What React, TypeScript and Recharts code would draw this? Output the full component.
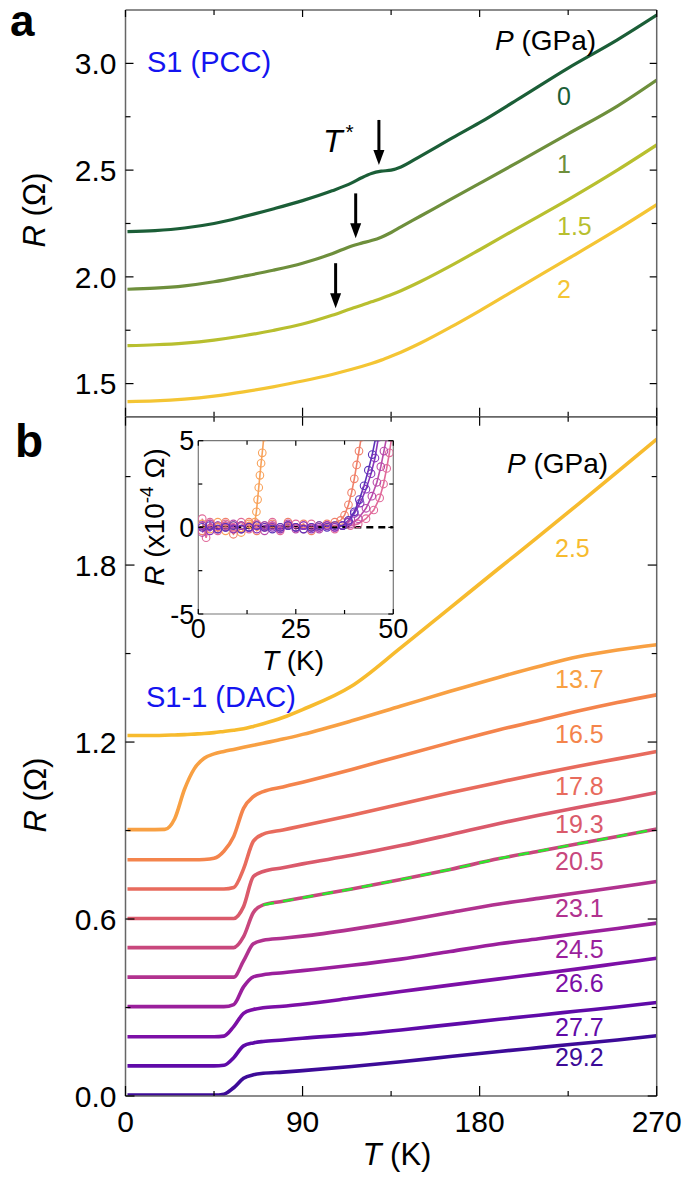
import React from "react";
import { LineChart, Line, XAxis, YAxis, ReferenceLine } from "recharts";

const FONT = "'Liberation Sans', Arial, Helvetica, sans-serif";

// ---- panel a: S1 in the piston-cylinder cell, R (ohm) vs T (K)
const tA = [1, 15, 30, 45, 60, 75, 90, 105, 115, 120, 125, 130, 135, 140, 150, 165, 180, 200, 225, 250, 270];
const rA0 = [2.212, 2.217, 2.229, 2.25, 2.282, 2.318, 2.357, 2.403, 2.44, 2.464, 2.484, 2.495, 2.5, 2.515, 2.566, 2.645, 2.722, 2.835, 2.978, 3.11, 3.226];
const rA1 = [1.942, 1.947, 1.958, 1.977, 2.003, 2.031, 2.064, 2.108, 2.145, 2.158, 2.17, 2.186, 2.208, 2.234, 2.285, 2.362, 2.438, 2.54, 2.67, 2.8, 2.922];
const rA15 = [1.678, 1.682, 1.69, 1.704, 1.724, 1.749, 1.779, 1.82, 1.852, 1.867, 1.883, 1.899, 1.916, 1.935, 1.978, 2.05, 2.127, 2.232, 2.362, 2.5, 2.618];
const rA2 = [1.416, 1.419, 1.427, 1.441, 1.461, 1.485, 1.512, 1.543, 1.567, 1.58, 1.594, 1.61, 1.628, 1.647, 1.69, 1.763, 1.841, 1.95, 2.085, 2.222, 2.338];
// T* arrows: [T, R at tail, R at tip]
const tStarArrows = [
  [128.8, 2.735, 2.524],
  [117, 2.391, 2.181],
  [106.8, 2.064, 1.853],
];

// ---- panel b: S1-1 in the diamond anvil cell
const tB = [1, 10, 20, 25, 30, 35, 40, 45, 50, 55, 60, 65, 70, 80, 90, 115, 140, 165, 190, 210, 230, 250, 270];
const rB25 = [1.222, 1.222, 1.223, 1.224, 1.225, 1.227, 1.229, 1.232, 1.236, 1.24, 1.245, 1.253, 1.262, 1.283, 1.31, 1.39, 1.52, 1.655, 1.79, 1.897, 2.006, 2.116, 2.227];
const rB137 = [0.903, 0.903, 0.904, 0.94, 1.04, 1.11, 1.145, 1.16, 1.168, 1.175, 1.182, 1.189, 1.196, 1.21, 1.226, 1.272, 1.322, 1.372, 1.42, 1.456, 1.489, 1.512, 1.53];
const rB165 = [0.801, 0.801, 0.801, 0.801, 0.801, 0.801, 0.802, 0.806, 0.83, 0.88, 0.975, 1.015, 1.032, 1.048, 1.064, 1.107, 1.153, 1.198, 1.242, 1.273, 1.305, 1.334, 1.36];
const rB178 = [0.702, 0.702, 0.702, 0.702, 0.702, 0.702, 0.702, 0.702, 0.702, 0.707, 0.77, 0.864, 0.888, 0.902, 0.916, 0.952, 0.99, 1.028, 1.064, 1.092, 1.118, 1.143, 1.168];
const rB193 = [0.602, 0.602, 0.602, 0.602, 0.602, 0.602, 0.602, 0.602, 0.602, 0.602, 0.642, 0.744, 0.761, 0.774, 0.787, 0.816, 0.849, 0.886, 0.924, 0.952, 0.978, 1.003, 1.029];
const rB205 = [0.503, 0.503, 0.503, 0.503, 0.503, 0.503, 0.503, 0.503, 0.503, 0.503, 0.54, 0.622, 0.648, 0.66, 0.672, 0.702, 0.734, 0.768, 0.805, 0.83, 0.855, 0.88, 0.905];
const rB231 = [0.403, 0.403, 0.403, 0.403, 0.403, 0.403, 0.403, 0.403, 0.403, 0.403, 0.458, 0.516, 0.528, 0.535, 0.542, 0.565, 0.592, 0.622, 0.651, 0.67, 0.689, 0.708, 0.727];
const rB245 = [0.303, 0.303, 0.303, 0.303, 0.303, 0.303, 0.303, 0.303, 0.303, 0.31, 0.37, 0.404, 0.411, 0.418, 0.425, 0.443, 0.464, 0.49, 0.516, 0.533, 0.551, 0.568, 0.586];
const rB266 = [0.201, 0.201, 0.201, 0.201, 0.201, 0.201, 0.201, 0.201, 0.203, 0.235, 0.28, 0.293, 0.299, 0.304, 0.311, 0.332, 0.354, 0.376, 0.397, 0.414, 0.431, 0.449, 0.467];
const rB277 = [0.102, 0.102, 0.102, 0.102, 0.102, 0.102, 0.102, 0.102, 0.104, 0.13, 0.17, 0.18, 0.185, 0.19, 0.196, 0.208, 0.224, 0.242, 0.26, 0.274, 0.288, 0.302, 0.317];
const rB292 = [0.003, 0.003, 0.003, 0.003, 0.003, 0.003, 0.003, 0.003, 0.006, 0.028, 0.06, 0.072, 0.077, 0.081, 0.086, 0.1, 0.116, 0.134, 0.151, 0.164, 0.177, 0.19, 0.204];
// fit on the 20.5 GPa curve (green dashed)
const fitB = [null, null, null, null, null, null, null, null, null, null, null, null, 0.648, 0.66, 0.672, 0.702, 0.734, 0.768, 0.805, 0.83, 0.855, 0.88, 0.905];

// ---- inset: low-T zoom, R in 1e-4 ohm, [T, R]
const ins137 = [[1, 0.2], [3, -0.1], [5, 0.3], [7, -0.2], [9, 0.1], [11, -0.3], [13, 0.2], [14, 0.1], [14.5, 0.3], [14.9, 0.9], [15.2, 1.6], [15.5, 2.3], [15.8, 3.0], [16.1, 3.7], [16.4, 4.3], [16.8, 5.2]];
const ins165 = [[1, -0.2], [3, 0.2], [5, 0.0], [7, 0.3], [9, -0.4], [11, 0.1], [13, 0.3], [15, -0.2], [17, 0.1], [19, 0.2], [21, -0.1], [23, 0.3], [25, 0.0], [27, 0.2], [29, -0.2], [31, 0.1], [33, 0.2], [35, 0.3], [36.5, 0.4], [37.5, 0.7], [38.5, 1.3], [39.3, 2.0], [40.0, 2.8], [40.6, 3.6], [41.2, 4.4], [41.8, 5.2]];
const ins193 = [[1, 0.5], [2, -0.6], [3, 0.3], [5, -0.2], [7, 0.2], [9, 0.0], [11, 0.3], [13, -0.1], [15, 0.2], [17, 0.0], [19, 0.3], [21, -0.2], [23, 0.1], [25, 0.2], [27, -0.1], [29, 0.2], [31, 0.0], [33, 0.1], [35, -0.1], [37, 0.1], [39, 0.1], [41, 0.2], [43, 0.5], [45, 1.0], [46.5, 1.7], [47.5, 2.5], [48.3, 3.4], [49, 4.3], [49.6, 5.2]];
const ins231 = [[1, -0.3], [3, 0.2], [5, -0.1], [7, 0.1], [9, 0.2], [11, -0.1], [13, 0.0], [15, 0.1], [17, -0.2], [19, 0.1], [21, 0.0], [23, 0.2], [25, -0.1], [27, 0.1], [29, 0.0], [31, -0.1], [33, 0.1], [35, 0.0], [37, 0.1], [39, 0.2], [41, 0.5], [43, 1.1], [44.5, 1.8], [45.8, 2.6], [46.8, 3.5], [47.6, 4.4], [48.3, 5.2]];
const ins266 = [[1, 0.1], [3, -0.2], [5, 0.1], [7, 0.0], [9, -0.1], [11, 0.1], [13, 0.0], [15, -0.1], [17, 0.1], [19, 0.0], [21, -0.1], [23, 0.1], [25, 0.0], [27, 0.1], [29, -0.1], [31, 0.0], [33, 0.1], [35, 0.0], [37, 0.1], [38.5, 0.3], [40, 0.8], [41.5, 1.4], [43, 2.2], [44.3, 3.1], [45.3, 4.0], [46.2, 5.2]];
const ins292 = [[1, 0.0], [3, 0.1], [5, -0.1], [7, 0.0], [9, 0.1], [11, -0.1], [13, 0.0], [15, 0.1], [17, 0.0], [19, -0.1], [21, 0.0], [23, 0.1], [25, 0.0], [27, -0.1], [29, 0.0], [31, 0.1], [33, 0.0], [35, 0.1], [37, 0.1], [38.5, 0.4], [40, 0.9], [41.3, 1.6], [42.5, 2.4], [43.6, 3.3], [44.6, 4.2], [45.5, 5.2]];

// ---- ticks
const xTicks = [0, 45, 90, 135, 180, 225, 270];
const xMajor = [0, 90, 180, 270];
const yTicksA = [1.5, 1.75, 2, 2.25, 2.5, 2.75, 3];
const yMajorA = [1.5, 2, 2.5, 3];
const yTicksB = [0, 0.3, 0.6, 0.9, 1.2, 1.5, 1.8, 2.1];
const yMajorB = [0, 0.6, 1.2, 1.8];
const insXTicks = [0, 12.5, 25, 37.5, 50];
const insXMajor = [0, 25, 50];
const insYTicks = [-5, -2.5, 0, 2.5, 5];
const insYMajor = [-5, 0, 5];

const dataA = tA.map((t, i) => ({ t, p0: rA0[i], p1: rA1[i], p15: rA15[i], p2: rA2[i] }));
const dataB = tB.map((t, i) => ({
  t, p25: rB25[i], p137: rB137[i], p165: rB165[i], p178: rB178[i], p193: rB193[i],
  p205: rB205[i], p231: rB231[i], p245: rB245[i], p266: rB266[i], p277: rB277[i], p292: rB292[i], fit: fitB[i],
}));
const toPts = (arr: number[][]) => arr.map(([t, r]) => ({ t, r }));

const seriesA = [
  { key: "p0", color: "#1b5e37" },
  { key: "p1", color: "#6e8f3c" },
  { key: "p15", color: "#b8bf2f" },
  { key: "p2", color: "#f4c534" },
];
const seriesB = [
  { key: "p25", color: "#f7bb2e" },
  { key: "p137", color: "#f8a043" },
  { key: "p165", color: "#f4844c" },
  { key: "p178", color: "#e86b5d" },
  { key: "p193", color: "#da5a6b" },
  { key: "p205", color: "#c8477d" },
  { key: "p231", color: "#b1328f" },
  { key: "p245", color: "#9a1f9c" },
  { key: "p266", color: "#7c0fa6" },
  { key: "p277", color: "#5f0aa8" },
  { key: "p292", color: "#3d0b98" },
];
const insetSeries = [
  { pts: toPts(ins137), color: "#f8a25a" },
  { pts: toPts(ins165), color: "#f0806a" },
  { pts: toPts(ins193), color: "#e06a9a" },
  { pts: toPts(ins231), color: "#b84aaa" },
  { pts: toPts(ins266), color: "#8a34bc" },
  { pts: toPts(ins292), color: "#5a32b8" },
];

const isMajor = (v: number, majors: number[]) => majors.some((m) => Math.abs(m - v) < 1e-6);
const frame = { stroke: "#666", strokeWidth: 1.5 };
const insFrame = { stroke: "#777", strokeWidth: 1.2 };

type TickOpt = { len: number; minLen: number; fmt?: (v: number) => string; size?: number; gap?: number };

const leftTick = (majors: number[], o: TickOpt) => (p: any) => {
  const v = p.payload.value;
  const maj = isMajor(v, majors);
  return (
    <g>
      <line x1={p.x} x2={p.x + (maj ? o.len : o.minLen)} y1={p.y} y2={p.y} stroke="#000" strokeWidth={1.2} />
      {maj && o.fmt ? (
        <text x={p.x - (o.gap ?? 9)} y={p.y} dy="0.36em" textAnchor="end" fontSize={o.size} fontFamily={FONT} fill="#000">
          {o.fmt(v)}
        </text>
      ) : null}
    </g>
  );
};
const rightTick = (majors: number[], o: TickOpt) => (p: any) => {
  const maj = isMajor(p.payload.value, majors);
  return <line x1={p.x} x2={p.x - (maj ? o.len : o.minLen)} y1={p.y} y2={p.y} stroke="#000" strokeWidth={1.2} />;
};
const bottomTick = (majors: number[], o: TickOpt) => (p: any) => {
  const v = p.payload.value;
  const maj = isMajor(v, majors);
  return (
    <g>
      <line x1={p.x} x2={p.x} y1={p.y} y2={p.y - (maj ? o.len : o.minLen)} stroke="#000" strokeWidth={1.2} />
      {maj && o.fmt ? (
        <text x={p.x} y={p.y + (o.gap ?? 30)} textAnchor="middle" fontSize={o.size} fontFamily={FONT} fill="#000">
          {o.fmt(v)}
        </text>
      ) : null}
    </g>
  );
};
const topTick = (majors: number[], o: TickOpt) => (p: any) => {
  const maj = isMajor(p.payload.value, majors);
  return <line x1={p.x} x2={p.x} y1={p.y} y2={p.y + (maj ? o.len : o.minLen)} stroke="#000" strokeWidth={1.2} />;
};

const ArrowShape = (p: any) => {
  const { x1, y1, x2, y2 } = p;
  const head = 15;
  const hw = 5.5;
  return (
    <g>
      <line x1={x1} y1={y1} x2={x2} y2={y2 - head + 2} stroke="#000" strokeWidth={3} />
      <polygon points={`${x2 - hw},${y2 - head} ${x2 + hw},${y2 - head} ${x2},${y2}`} fill="#000" />
    </g>
  );
};

const openDot = (color: string) => (p: any) => {
  if (p.cx == null || p.cy == null) return <g key={p.key} />;
  return <circle key={p.key} cx={p.cx} cy={p.cy} r={3.8} fill="none" stroke={color} strokeWidth={1.1} />;
};

const fmt1 = (v: number) => v.toFixed(1);
const fmt0 = (v: number) => String(v);

const labelsA = [
  { text: "0", color: "#1b5e37", y: 105 },
  { text: "1", color: "#6e8f3c", y: 173 },
  { text: "1.5", color: "#b8bf2f", y: 235 },
  { text: "2", color: "#f4c534", y: 298 },
];
const labelsB = [
  { text: "2.5", color: "#f7bb2e", y: 557 },
  { text: "13.7", color: "#f8a043", y: 688 },
  { text: "16.5", color: "#f4844c", y: 743 },
  { text: "17.8", color: "#e86b5d", y: 795 },
  { text: "19.3", color: "#da5a6b", y: 833 },
  { text: "20.5", color: "#c8477d", y: 870 },
  { text: "23.1", color: "#b1328f", y: 917 },
  { text: "24.5", color: "#9a1f9c", y: 958 },
  { text: "26.6", color: "#7c0fa6", y: 992 },
  { text: "27.7", color: "#5f0aa8", y: 1036 },
  { text: "29.2", color: "#3d0b98", y: 1066 },
];

// axes need a non-zero size to be drawn; margins below leave the plot box at
// x 125.5..656.7, panel a y 10..416.7, panel b y 416.7..1096
const axisCommon = { tickSize: 0, tickMargin: 0, tickLine: false, interval: 0 as const, allowDataOverflow: true };

export default function App() {
  return (
    <div style={{ position: "absolute", left: 0, top: 0, width: 687, height: 1179, background: "#fff", fontFamily: FONT }}>
      {/* panel a */}
      <div style={{ position: "absolute", left: 0, top: 0 }}>
        <LineChart width={687} height={420} data={dataA} margin={{ top: 9, right: 29.3, bottom: 2.3, left: 124.5 }}>
          <XAxis xAxisId="b" dataKey="t" type="number" domain={[0, 270]} ticks={xTicks} height={1}
            {...axisCommon} axisLine={frame} tick={bottomTick(xMajor, { len: 9, minLen: 5 })} />
          <XAxis xAxisId="t" orientation="top" dataKey="t" type="number" domain={[0, 270]} ticks={xTicks} height={1}
            {...axisCommon} axisLine={frame} tick={topTick(xMajor, { len: 7, minLen: 5 })} />
          <YAxis yAxisId="l" type="number" domain={[1.345, 3.25]} ticks={yTicksA} width={1}
            {...axisCommon} axisLine={frame} tick={leftTick(yMajorA, { len: 8, minLen: 5, fmt: fmt1, size: 30, gap: 9 })} />
          <YAxis yAxisId="r" orientation="right" type="number" domain={[1.345, 3.25]} ticks={yTicksA} width={1}
            {...axisCommon} axisLine={frame} tick={rightTick(yMajorA, { len: 7, minLen: 5 })} />
          {seriesA.map((s) => (
            <Line key={s.key} xAxisId="b" yAxisId="l" dataKey={s.key} type="monotone" stroke={s.color}
              strokeWidth={3.2} dot={false} isAnimationActive={false} />
          ))}
          {tStarArrows.map(([t, r1, r2], i) => (
            <ReferenceLine key={`arr-${i}`} xAxisId="b" yAxisId="l" segment={[{ x: t, y: r1 }, { x: t, y: r2 }]}
              shape={ArrowShape} ifOverflow="visible" />
          ))}
        </LineChart>
      </div>

      {/* panel b */}
      <div style={{ position: "absolute", left: 0, top: 0 }}>
        <LineChart width={687} height={1179} data={dataB} margin={{ top: 415.7, right: 29.3, bottom: 82, left: 124.5 }}>
          <XAxis xAxisId="b" dataKey="t" type="number" domain={[0, 270]} ticks={xTicks} height={1}
            {...axisCommon} axisLine={frame} tick={bottomTick(xMajor, { len: 10, minLen: 5, fmt: fmt0, size: 30, gap: 36 })} />
          <XAxis xAxisId="t" orientation="top" dataKey="t" type="number" domain={[0, 270]} ticks={xTicks} height={1}
            {...axisCommon} axisLine={frame} tick={topTick(xMajor, { len: 9, minLen: 5 })} />
          <YAxis yAxisId="l" type="number" domain={[0, 2.303]} ticks={yTicksB} width={1}
            {...axisCommon} axisLine={frame} tick={leftTick(yMajorB, { len: 9, minLen: 5, fmt: fmt1, size: 30, gap: 9 })} />
          <YAxis yAxisId="r" orientation="right" type="number" domain={[0, 2.303]} ticks={yTicksB} width={1}
            {...axisCommon} axisLine={frame} tick={rightTick(yMajorB, { len: 9, minLen: 5 })} />
          {seriesB.map((s) => (
            <Line key={s.key} xAxisId="b" yAxisId="l" dataKey={s.key} type="monotone" stroke={s.color}
              strokeWidth={3.6} dot={false} isAnimationActive={false} />
          ))}
          <Line xAxisId="b" yAxisId="l" dataKey="fit" type="monotone" stroke="#2ee62e" strokeWidth={2.5}
            strokeDasharray="11 9" dot={false} isAnimationActive={false} />
        </LineChart>
      </div>

      {/* inset */}
      <div style={{ position: "absolute", left: 0, top: 0 }}>
        <LineChart width={687} height={700} margin={{ top: 439.7, right: 292.7, bottom: 85, left: 197.3 }}>
          <XAxis xAxisId="b" dataKey="t" type="number" domain={[0, 50]} ticks={insXTicks} height={1}
            {...axisCommon} axisLine={insFrame} tick={bottomTick(insXMajor, { len: 5, minLen: 4, fmt: fmt0, size: 27, gap: 24 })} />
          <XAxis xAxisId="t" orientation="top" dataKey="t" type="number" domain={[0, 50]} ticks={insXTicks} height={1}
            {...axisCommon} axisLine={insFrame} tick={topTick(insXMajor, { len: 5, minLen: 4 })} />
          <YAxis yAxisId="l" type="number" domain={[-5, 5]} ticks={insYTicks} width={1}
            {...axisCommon} axisLine={insFrame} tick={leftTick(insYMajor, { len: 5, minLen: 4, fmt: fmt0, size: 27, gap: 4 })} />
          <YAxis yAxisId="r" orientation="right" type="number" domain={[-5, 5]} ticks={insYTicks} width={1}
            {...axisCommon} axisLine={insFrame} tick={rightTick(insYMajor, { len: 5, minLen: 4 })} />
          {insetSeries.map((s, i) => (
            <Line key={`ins-${i}`} xAxisId="b" yAxisId="l" data={s.pts} dataKey="r" type="linear" stroke={s.color}
              strokeWidth={1.6} dot={openDot(s.color)} isAnimationActive={false} />
          ))}
          <ReferenceLine xAxisId="b" yAxisId="l" y={0} stroke="#000" strokeWidth={2.5} strokeDasharray="7 5" />
        </LineChart>
      </div>

      {/* annotations */}
      <svg width={687} height={1179} style={{ position: "absolute", left: 0, top: 0, pointerEvents: "none" }} fontFamily={FONT}>
        <text x={10} y={36} fontSize={44} fontWeight="bold">a</text>
        <text x={15} y={457} fontSize={46} fontWeight="bold">b</text>

        <text transform="rotate(-90 45 210)" x={45} y={210} fontSize={31} textAnchor="middle">
          <tspan fontStyle="italic">R</tspan> (Ω)
        </text>
        <text transform="rotate(-90 46 795)" x={46} y={795} fontSize={31} textAnchor="middle">
          <tspan fontStyle="italic">R</tspan> (Ω)
        </text>
        <text x={397} y={1165} fontSize={31} textAnchor="middle">
          <tspan fontStyle="italic">T</tspan> (K)
        </text>

        <text x={147} y={72} fontSize={29} fill="#1414f0">S1 (PCC)</text>
        <text x={495} y={50} fontSize={28}>
          <tspan fontStyle="italic">P</tspan> (GPa)
        </text>
        <text x={323} y={152} fontSize={32}>
          <tspan fontStyle="italic">T</tspan>
          <tspan fontSize={21} dy={-13} dx={3}>*</tspan>
        </text>
        {labelsA.map((l) => (
          <text key={l.text} x={557} y={l.y} fontSize={25} fill={l.color}>{l.text}</text>
        ))}

        <text x={146} y={707} fontSize={29} fill="#1414f0">S1-1 (DAC)</text>
        <text x={507} y={473} fontSize={28}>
          <tspan fontStyle="italic">P</tspan> (GPa)
        </text>
        {labelsB.map((l) => (
          <text key={l.text} x={555} y={l.y} fontSize={25} fill={l.color}>{l.text}</text>
        ))}

        <text transform="rotate(-90 164 517)" x={164} y={517} fontSize={28} textAnchor="middle">
          <tspan fontStyle="italic">R</tspan> (x10<tspan fontSize={19} dy={-11}>-4</tspan><tspan dy={11}> Ω)</tspan>
        </text>
        <text x={293} y={670} fontSize={28} textAnchor="middle">
          <tspan fontStyle="italic">T</tspan> (K)
        </text>
      </svg>
    </div>
  );
}
